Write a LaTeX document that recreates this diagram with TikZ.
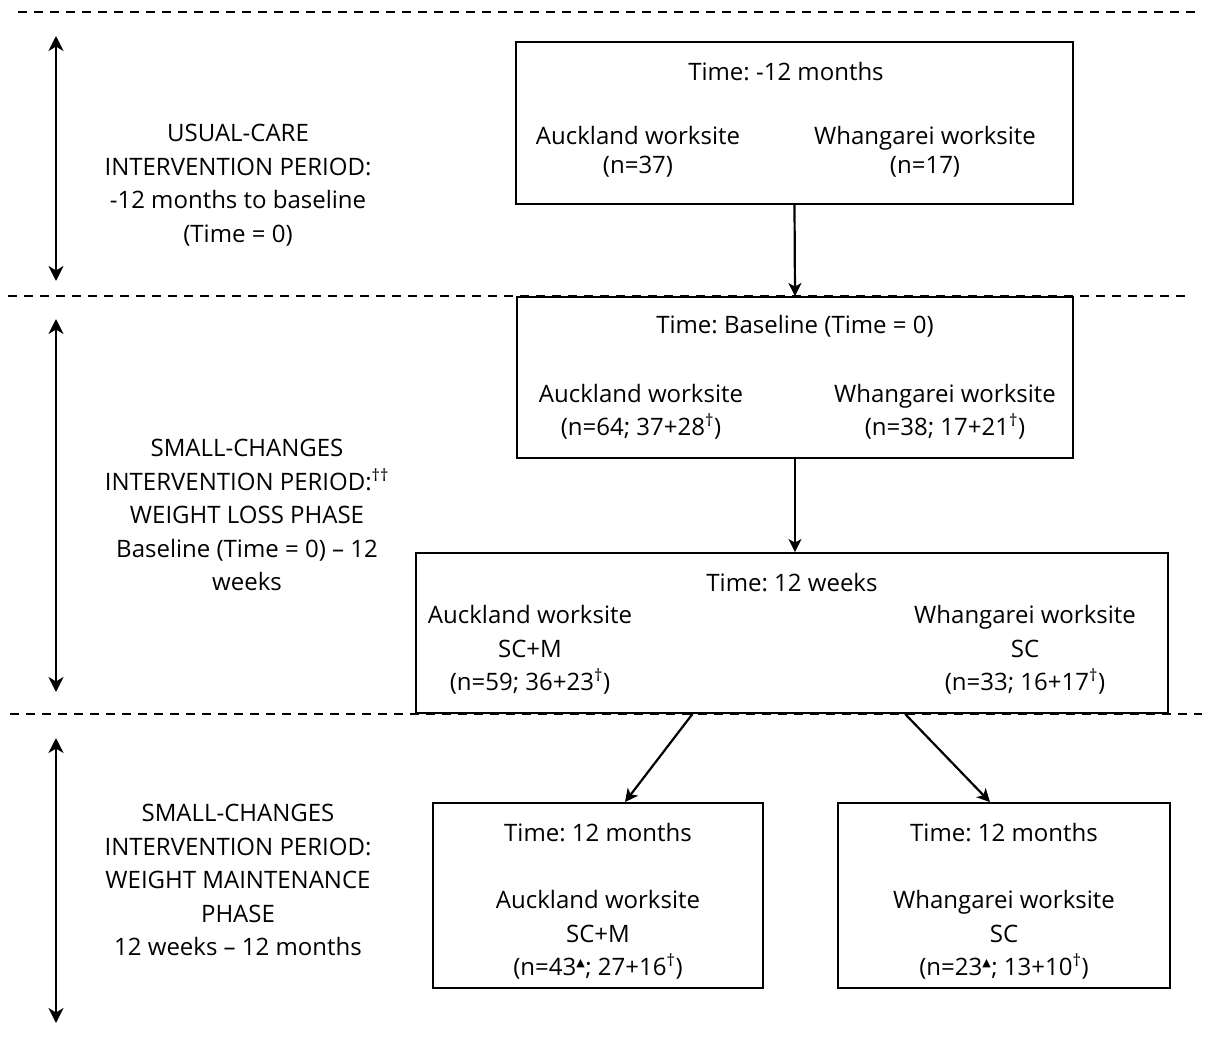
\documentclass[tikz,border=0pt]{standalone}
\usepackage{fontspec}
\setmainfont{Open Sans}
\newfontfamily\symbolfont{DejaVu Sans}
\usetikzlibrary{arrows.meta, calc}

\newcommand{\dagmark}{\textsuperscript{†}}
\newcommand{\trimark}{\textsuperscript{\symbolfont\fontsize{11}{11}\selectfont ▲}}
\frenchspacing

\begin{document}
\begin{tikzpicture}[x=1pt, y=-1pt,
    font=\fontsize{24}{33.5}\selectfont,
    box/.style={draw, line width=1.9pt, inner sep=0pt},
    txt/.style={align=center, inner sep=0pt},
    flow/.style={-{Stealth[length=13pt, width=13pt, inset=3.5pt]}, line width=2.2pt},
    span/.style={{Stealth[length=15pt, width=15pt, inset=4.5pt]}-{Stealth[length=15pt, width=15pt, inset=4.5pt]}, line width=2.4pt},
    divider/.style={dash pattern=on 9pt off 7pt, line width=1.5pt}]

\useasboundingbox (0,0) rectangle (1219,1053);

% Period separators
\draw[divider] (18,12) -- (1195,12);
\draw[divider] (8,296) -- (1192,296);
\draw[divider] (10,714) -- (1202,714);

% Period spans on the left
\coordinate (usualtop) at (56,36);
\coordinate (usualbot) at (56,281);
\coordinate (losstop) at (56,319);
\coordinate (lossbot) at (56,692);
\coordinate (maintop) at (56,738);
\coordinate (mainbot) at (56,1023);
\draw[span] (usualtop) -- (usualbot);
\draw[span] (losstop) -- (lossbot);
\draw[span] (maintop) -- (mainbot);

% Period labels
\node[txt] (usual) at (238,185) {USUAL-CARE\\INTERVENTION PERIOD:\\-12 months to baseline\\(Time = 0)};
\node[txt] (loss) at (247,515) {SMALL-CHANGES\\INTERVENTION PERIOD:\textsuperscript{††}\\WEIGHT LOSS PHASE\\Baseline (Time = 0) – 12\\weeks};
\node[txt] (maint) at (238,880) {SMALL-CHANGES\\INTERVENTION PERIOD:\\WEIGHT MAINTENANCE\\PHASE\\12 weeks – 12 months};

% Time: -12 months
\node[box, minimum width=557, minimum height=162] (start) at (794.5,123) {};
\node[txt] (starttime) at (786,72) {Time: -12 months};
\node[txt] (startakl) at (638,152) {Auckland worksite\\[-4pt](n=37)};
\node[txt] (startwhg) at (925,152) {Whangarei worksite\\[-4pt](n=17)};

% Time: baseline
\node[box, minimum width=556, minimum height=161] (base) at (795,377.5) {};
\node[txt] (basetime) at (795,326) {Time: Baseline (Time = 0)};
\node[txt] (baseakl) at (641,412) {Auckland worksite\\(n=64; 37+28\dagmark)};
\node[txt] (basewhg) at (945,412) {Whangarei worksite\\(n=38; 17+21\dagmark)};

% Time: 12 weeks
\node[box, minimum width=752, minimum height=160] (weeks) at (792,633) {};
\node[txt] (weekstime) at (792,583) {Time: 12 weeks};
\node[txt] (weeksakl) at (530,650) {Auckland worksite\\SC+M\\(n=59; 36+23\dagmark)};
\node[txt] (weekswhg) at (1025,650) {Whangarei worksite\\SC\\(n=33; 16+17\dagmark)};

% Time: 12 months
\node[box, minimum width=330, minimum height=185] (aklend) at (598,895.5) {};
\node[txt] (aklendtime) at (598,833) {Time: 12 months};
\node[txt] (aklendn) at (598,935) {Auckland worksite\\SC+M\\(n=43\trimark; 27+16\dagmark)};
\node[box, minimum width=332, minimum height=185] (whgend) at (1004,895.5) {};
\node[txt] (whgendtime) at (1004,833) {Time: 12 months};
\node[txt] (whgendn) at (1004,935) {Whangarei worksite\\SC\\(n=23\trimark; 13+10\dagmark)};

% Flow between time points
\draw[flow] (start.south) -- (base.north);
\draw[flow] (base.south) -- (base.south |- weeks.north);
\draw[flow] ($(weeks.south west)!0.368!(weeks.south east)$) -- ($(aklend.north)+(27,0)$);
\draw[flow] ($(weeks.south west)!0.65!(weeks.south east)$) -- ($(whgend.north)+(-14,0)$);

\end{tikzpicture}
\end{document}
